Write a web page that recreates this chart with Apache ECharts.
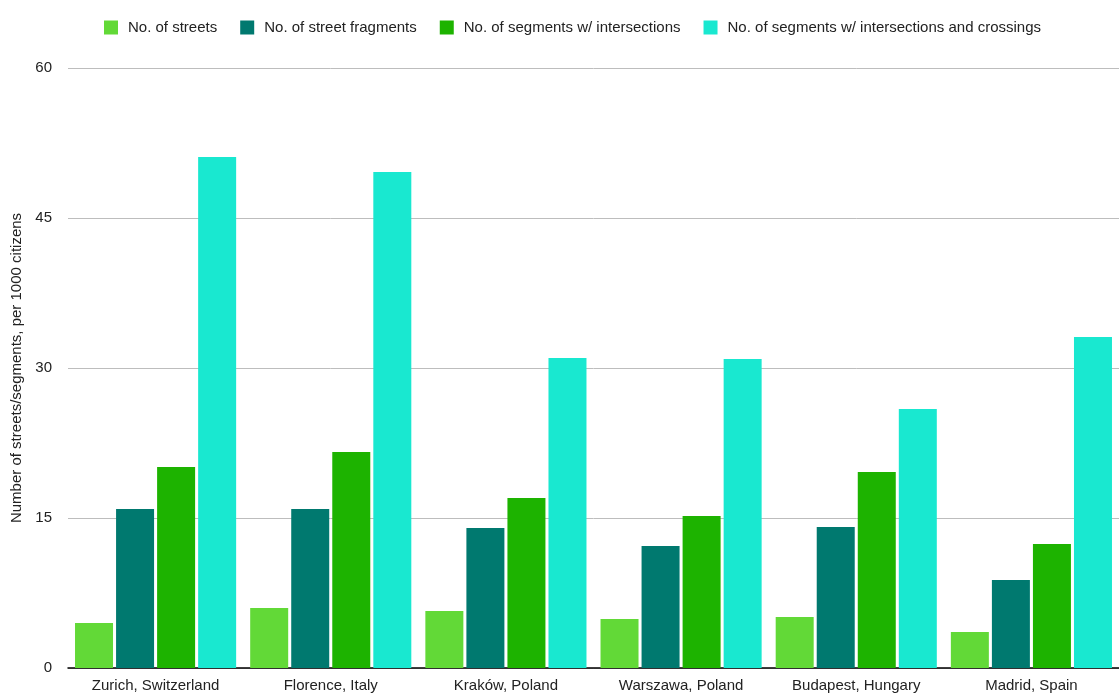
<!DOCTYPE html>
<html>
<head>
    <meta charset="utf-8">
    <title>Streets per 1000 citizens</title>
    <style>
        html, body { margin: 0; padding: 0; background: #fff; }
        #main { width: 1119px; height: 695px; }
    </style>
</head>
<body>
    <div id="main"></div>
    <script src="https://cdn.jsdelivr.net/npm/echarts@6/dist/echarts.min.js"></script>
    <script>
        // data
        var cities = ['Zurich, Switzerland', 'Florence, Italy', 'Kraków, Poland', 'Warszawa, Poland', 'Budapest, Hungary', 'Madrid, Spain'];
        var streets = [4.5, 6.0, 5.7, 4.9, 5.1, 3.6];
        var fragments = [15.9, 15.9, 14.0, 12.2, 14.1, 8.8];
        var segInter = [20.1, 21.6, 17.0, 15.2, 19.6, 12.4];
        var segCross = [51.1, 49.6, 31.0, 30.9, 25.9, 33.1];

        var seriesNames = ['No. of streets', 'No. of street fragments', 'No. of segments w/ intersections', 'No. of segments w/ intersections and crossings'];
        var colors = ['#62d937', '#00796f', '#1db300', '#19e8d0'];
        var values = [streets, fragments, segInter, segCross];

        var font = 'Helvetica, "Liberation Sans", Arial, sans-serif';
        var chart = echarts.init(document.getElementById('main'));

        var option = {
            animation: false,
            textStyle: { fontFamily: font },
            color: colors,
            legend: {
                top: 15,
                left: 99,
                itemWidth: 14,
                itemHeight: 14,
                itemGap: 23,
                icon: 'rect',
                textStyle: { fontSize: 15, color: '#222', fontFamily: font, padding: [0, 0, 0, 5] },
                data: seriesNames
            },
            grid: { left: 68, right: 0, top: 68, bottom: 27, containLabel: false },
            xAxis: {
                type: 'category',
                data: cities,
                axisLine: { lineStyle: { color: '#000', width: 1.5 } },
                axisTick: { show: false },
                axisLabel: { color: '#222', fontSize: 15, margin: 10, fontFamily: font }
            },
            yAxis: {
                type: 'value',
                min: 0,
                max: 60,
                interval: 15,
                name: 'Number of streets/segments, per 1000 citizens',
                nameLocation: 'middle',
                nameGap: 42,
                nameTextStyle: { fontSize: 15, color: '#222', fontFamily: font },
                axisLine: { show: false },
                axisTick: { show: false },
                axisLabel: { color: '#222', fontSize: 15, margin: 16, fontFamily: font },
                splitLine: { lineStyle: { color: '#bdbdbd', width: 1 } }
            },
            series: seriesNames.map(function (name, i) {
                return {
                    name: name,
                    type: 'bar',
                    data: values[i],
                    barWidth: 38,
                    barGap: '8%',
                    itemStyle: { color: colors[i] }
                };
            })
        };
        chart.setOption(option);
    </script>
</body>
</html>
